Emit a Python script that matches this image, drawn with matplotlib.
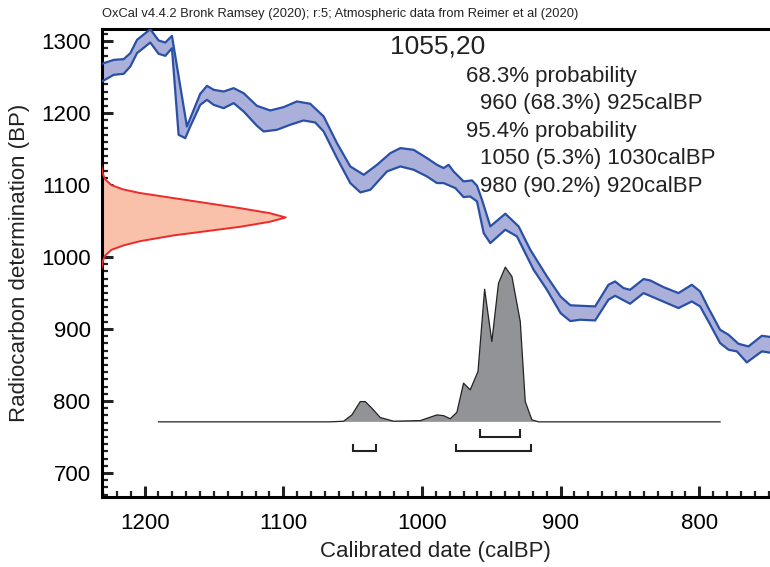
import numpy as np
import matplotlib.pyplot as plt
from matplotlib.ticker import MultipleLocator

plt.rcParams['font.family'] = ['Liberation Sans', 'DejaVu Sans']

# calibration curve (IntCal20), upper / lower 1-sigma edges
cal_upper_x = [1236, 1229.5, 1222.3, 1215.1, 1210.3, 1205.5, 1195.9, 1189.9, 1185.1,
               1180.3, 1169.5, 1159.9, 1155.0, 1150.2, 1143.0, 1135.8, 1128.6, 1119.0,
               1109.4, 1099.8, 1090.2, 1080.6, 1070.9, 1061.3, 1051.7, 1042.0, 1032.4,
               1022.8, 1015.6, 1006.0, 996.4, 989.2, 984.4, 980.8, 977.2, 970.0, 963.9,
               960.3, 956.7, 950.7, 939.9, 930.3, 921.9, 909.9, 900, 893, 885.9, 875.1,
               865.5, 860.7, 854.7, 849.9, 840.2, 835.4, 825.8, 815.0, 805.4, 799.4,
               793.4, 785.0, 778.9, 771.8, 764.5, 754.9, 745]
cal_upper_y = [1264, 1269.4, 1274, 1275, 1283.3, 1301.8, 1316.6, 1300.9, 1298.1,
               1307.4, 1181.4, 1226.8, 1237.9, 1232.4, 1230, 1234.7, 1227.7, 1210.1,
               1203.7, 1208.3, 1216.2, 1213, 1195.4, 1158.3, 1125.9, 1114.3, 1128.2,
               1144.4, 1151.4, 1149, 1137.5, 1128.2, 1123.6, 1128.2, 1119, 1105.1, 1106.5,
               1099.1, 1079.6, 1042.6, 1060.2, 1042.6, 1010.2, 973.1, 945, 933, 932.3, 931.4,
               961.5, 966.1, 956.9, 954.5, 969.4, 967.5, 958.2, 949.9, 961.5, 952.2,
               929.1, 899.0, 892.0, 879.5, 875.8, 890.6, 888]
cal_lower_x = [1236, 1229.5, 1222.3, 1215.1, 1210.3, 1205.5, 1195.9, 1189.9, 1185.1,
               1180.3, 1175.5, 1170.7, 1167.1, 1159.9, 1155.0, 1150.2, 1143.0, 1135.8,
               1128.6, 1119.0, 1114.2, 1104.6, 1095.0, 1085.4, 1077.0, 1070.9, 1061.3,
               1051.7, 1044.4, 1037.2, 1025.2, 1015.6, 1006.0, 996.4, 989.2, 984.4,
               975.9, 970.0, 965.2, 960.3, 955.5, 950.7, 939.9, 931.5, 919.5, 909.9,
               900, 893, 885.9, 875.1, 865.5, 860.7, 849.9, 840.2, 815.0, 805.4, 799.4,
               793.4, 785.0, 778.9, 772.9, 765.7, 754.9, 745]
cal_lower_y = [1240, 1245.3, 1253.2, 1254.6, 1264.8, 1283.3, 1298.1, 1282.4, 1279.6,
               1290.2, 1169.9, 1165.2, 1181.4, 1211.5, 1218.5, 1211.5, 1206.9, 1213.9,
               1202.3, 1182.4, 1174.5, 1176.8, 1183.8, 1189.8, 1187, 1174.5, 1137.5,
               1102.8, 1089.8, 1093.5, 1119, 1125.9, 1121.3, 1112.0, 1102.8, 1102.8,
               1095.8, 1083.3, 1084.2, 1077.3, 1033.3, 1019.4, 1038.0, 1028.7, 982.4, 954.6,
               922, 911, 912.9, 911.9, 940.7, 946.2, 935.1, 949.9, 929.1, 938.3, 931.4,
               910.6, 880.5, 871.2, 868.9, 853.6, 868.9, 866]

# radiocarbon date 1055 +/- 20 BP, width of the red curve (calBP units from the axis)
c14_y = [1125, 1116, 1108, 1100, 1094, 1089, 1082, 1075, 1068, 1061, 1055,
         1049, 1042, 1036, 1030, 1022, 1016, 1010, 1002, 994, 985]
c14_w = [0, 0.8, 2.5, 7.0, 15.5, 27.6, 51.6, 75.7, 99.7, 121.3, 132.8,
         121.3, 99.7, 75.7, 51.6, 27.6, 15.5, 7.0, 2.5, 0.8, 0]

# calibrated probability (relative to peak)
prob_x = [1190, 1066.1, 1056.5, 1050.5, 1044.5, 1040.9, 1036.1, 1030.1, 1020.4,
          1001.2, 989.2, 984.4, 979.6, 974.8, 970.0, 965.2, 959.6, 954.8, 949.6,
          944.8, 939.9, 935.1, 929.1, 925.5, 920.7, 915.9, 785]
prob_p = [0, 0, 0.004, 0.045, 0.131, 0.131, 0.088, 0.028, 0.004,
          0.008, 0.045, 0.040, 0.020, 0.062, 0.25, 0.207, 0.325, 0.857, 0.519,
          0.896, 1.0, 0.939, 0.648, 0.131, 0.013, 0, 0]

range_68 = [(958, 929)]
range_95 = [(1049.5, 1033.5), (975.5, 921.5)]

title = "OxCal v4.4.2 Bronk Ramsey (2020); r:5; Atmospheric data from Reimer et al (2020)"
date_label = "1055,20"
summary = ["68.3% probability", "960 (68.3%) 925calBP",
           "95.4% probability", "1050 (5.3%) 1030calBP", "980 (90.2%) 920calBP"]

xlim = (1231, 749)
ylim = (667, 1317)

fig = plt.figure(figsize=(7.7, 5.67), dpi=100)
ax = fig.add_axes([0.132, 0.124, 0.868, 0.825])
ax.set_xlim(*xlim)
ax.set_ylim(*ylim)

# calibration curve band
poly_x = np.concatenate([cal_upper_x, cal_lower_x[::-1]])
poly_y = np.concatenate([cal_upper_y, cal_lower_y[::-1]])
ax.fill(poly_x, poly_y, facecolor="#aab0da", edgecolor="none", zorder=2)
ax.plot(cal_upper_x, cal_upper_y, color="#2a50a6", lw=1.6, zorder=3)
ax.plot(cal_lower_x, cal_lower_y, color="#2a50a6", lw=1.6, zorder=3)

# radiocarbon measurement
c14_x = xlim[0] - np.array(c14_w)
ax.fill_betweenx(c14_y, xlim[0], c14_x, facecolor="#f9c0aa", edgecolor="none", zorder=2)
ax.plot(c14_x, c14_y, color="#ee2a2a", lw=1.4, zorder=3)

# calibrated distribution
base = 771
scale = 215
prob_y = base + scale * np.array(prob_p)
ax.fill_between(prob_x, base, prob_y, facecolor="#929396", edgecolor="none", zorder=2)
ax.plot(prob_x, prob_y, color="#222222", lw=0.9, zorder=3)

# ranges
def bracket(x0, x1, y, h=9):
    ax.plot([x0, x0, x1, x1], [y + h, y, y, y + h], color="#222222", lw=1.5,
            solid_joinstyle="miter", zorder=3)

for x0, x1 in range_68:
    bracket(x0, x1, 750)
for x0, x1 in range_95:
    bracket(x0, x1, 730)

# axes styling
for side in ["left", "bottom", "top"]:
    ax.spines[side].set_linewidth(2.2)
ax.spines["right"].set_visible(False)
ax.xaxis.set_major_locator(MultipleLocator(100))
ax.xaxis.set_minor_locator(MultipleLocator(10))
ax.yaxis.set_major_locator(MultipleLocator(100))
ax.yaxis.set_minor_locator(MultipleLocator(10))
ax.tick_params(which="both", direction="in", labelsize=16, pad=8, color="#222222")
ax.tick_params(which="major", length=8, width=2.2)
ax.tick_params(which="minor", length=4, width=1.6)
ax.tick_params(axis="x", which="both", top=False, pad=12)
ax.tick_params(axis="y", which="both", right=False)

ax.set_xlabel("Calibrated date (calBP)", fontsize=16, color="#222222", labelpad=5)
ax.set_ylabel("Radiocarbon determination (BP)", fontsize=16, color="#222222", labelpad=8)

fig.text(0.132, 0.975, title, fontsize=9.3, color="#222222", va="center", ha="left")

ax.text(1023, 1292, date_label, fontsize=19, color="#222222", va="center", ha="left")
text_pos = [(968, 1251), (958, 1214), (968, 1175), (958, 1137), (958, 1098)]
for (tx, ty), s in zip(text_pos, summary):
    ax.text(tx, ty, s, fontsize=16, color="#222222", va="center", ha="left", zorder=4)

fig.savefig("out.png", dpi=100)
